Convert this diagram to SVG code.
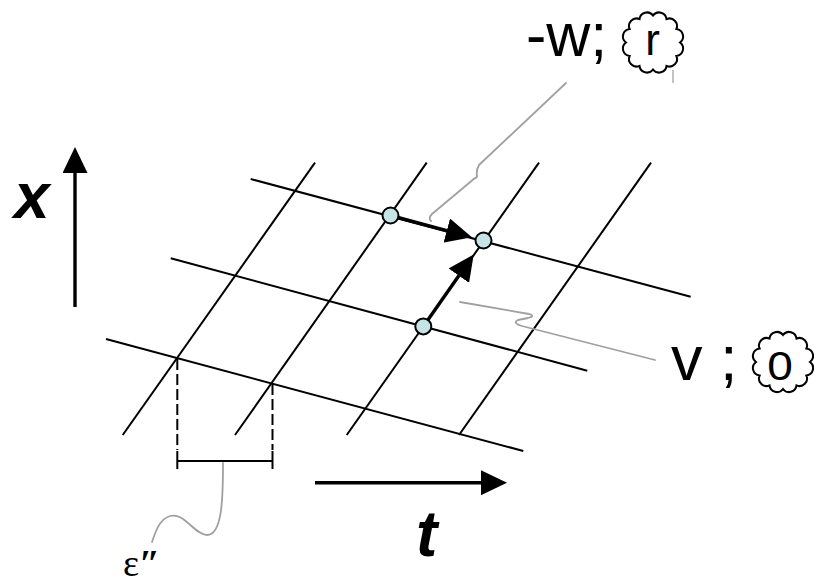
<svg xmlns="http://www.w3.org/2000/svg" width="814" height="584" viewBox="0 0 814 584">
<style>
.grid{stroke:#000;stroke-width:2;fill:none}
.dash{stroke:#000;stroke-width:2;stroke-dasharray:11 4;fill:none}
.arr{stroke:#000;stroke-width:3.4;fill:none;marker-end:url(#ah)}
.squig{stroke:#a0a0a0;stroke-width:1.8;fill:none;stroke-linecap:round;stroke-linejoin:round}
.node{fill:#c6e4e6;stroke:#000;stroke-width:2}
.cloud{fill:#fff;stroke:#000;stroke-width:2}
.lbl{font-family:"Liberation Sans",Arial,sans-serif;fill:#000}
.axl{font-family:"Liberation Sans",Arial,sans-serif;font-weight:bold;font-style:italic;font-size:64px;fill:#000}
</style>
<defs>
<marker id="ah" markerUnits="userSpaceOnUse" markerWidth="26" markerHeight="25" viewBox="0 0 26 25" refX="0" refY="12.5" orient="auto">
<path d="M0,0 L26,12.5 L0,25 Z" fill="#000"/>
</marker>
<path id="cloudShape" d="M0,-27 A7.5,7.5 0 0 1 13.5,-23.38 A7.5,7.5 0 0 1 23.38,-13.5 A7.5,7.5 0 0 1 27,0 A7.5,7.5 0 0 1 23.38,13.5 A7.5,7.5 0 0 1 13.5,23.38 A7.5,7.5 0 0 1 0,27 A7.5,7.5 0 0 1 -13.5,23.38 A7.5,7.5 0 0 1 -23.38,13.5 A7.5,7.5 0 0 1 -27,0 A7.5,7.5 0 0 1 -23.38,-13.5 A7.5,7.5 0 0 1 -13.5,-23.38 A7.5,7.5 0 0 1 0,-27 Z"/>
</defs>

<g id="grid">
<line class="grid" x1="250.7" y1="179" x2="690.7" y2="296.7"/>
<line class="grid" x1="170.7" y1="258.3" x2="587.3" y2="370.7"/>
<line class="grid" x1="106" y1="339" x2="523.3" y2="451"/>
<line class="grid" x1="122.7" y1="435" x2="315" y2="162.7"/>
<line class="grid" x1="235" y1="435" x2="426.7" y2="162.7"/>
<line class="grid" x1="346.7" y1="435" x2="539" y2="162.7"/>
<line class="grid" x1="459" y1="435" x2="651" y2="162.7"/>
</g>

<g id="epsilon-bracket">
<line class="dash" x1="177.3" y1="359" x2="177.3" y2="450"/>
<line class="dash" x1="272.5" y1="384" x2="272.5" y2="450"/>
<line class="grid" x1="177.3" y1="451" x2="177.3" y2="469"/>
<line class="grid" x1="272.5" y1="451" x2="272.5" y2="469"/>
<line class="grid" x1="177.3" y1="461" x2="272.5" y2="461"/>
</g>

<g id="connectors">
<line class="arr" x1="75" y1="307" x2="75" y2="173"/>
<line class="arr" x1="315" y1="482.7" x2="481" y2="482.7"/>
<line class="arr" x1="390.5" y1="215.5" x2="446.8" y2="230.6"/>
<line class="arr" x1="423.3" y1="326.4" x2="458.8" y2="275.7"/>
<path class="squig" d="M566,83 L479,165 Q476,170 477,176 Q477,178 475,178 L432,214 Q428,218 431,221"/>
<path class="squig" d="M460,302 L529,314 Q536,316 528,318 L518,320 Q512,323 522,326 L655,360"/>
<path class="squig" d="M223,463 C223,500 222,535 207,535 C195,535 184,512 170,516 C160,519 156,530 152,542"/>
</g>

<g id="node1"><circle class="node" cx="390.5" cy="215.5" r="8"/></g>
<g id="node2"><circle class="node" cx="483.5" cy="240.5" r="8"/></g>
<g id="node3"><circle class="node" cx="423.3" cy="326.4" r="8"/></g>

<g id="label-w">
<text class="lbl" x="526" y="56" font-size="61">-w;</text>
<use href="#cloudShape" class="cloud" transform="translate(653,42.5)"/>
<line x1="673" y1="70" x2="673" y2="83" stroke="#888" stroke-width="1"/>
<text class="lbl" x="652.5" y="55" font-size="44" text-anchor="middle">r</text>
</g>

<g id="label-v">
<text class="lbl" x="671" y="380" font-size="63">v ;</text>
<use href="#cloudShape" class="cloud" transform="translate(783,362)"/>
<text class="lbl" font-size="40" text-anchor="middle" transform="translate(780,380) scale(1.15,1)">0</text>
</g>

<g id="axis-labels">
<text class="axl" x="14" y="218">x</text>
<text class="axl" x="416" y="556">t</text>
<text x="123" y="575.5" font-family="'Liberation Serif','Times New Roman',serif" font-size="38" fill="#000">ε<tspan font-weight="bold" font-style="italic">″</tspan></text>
</g>
</svg>
